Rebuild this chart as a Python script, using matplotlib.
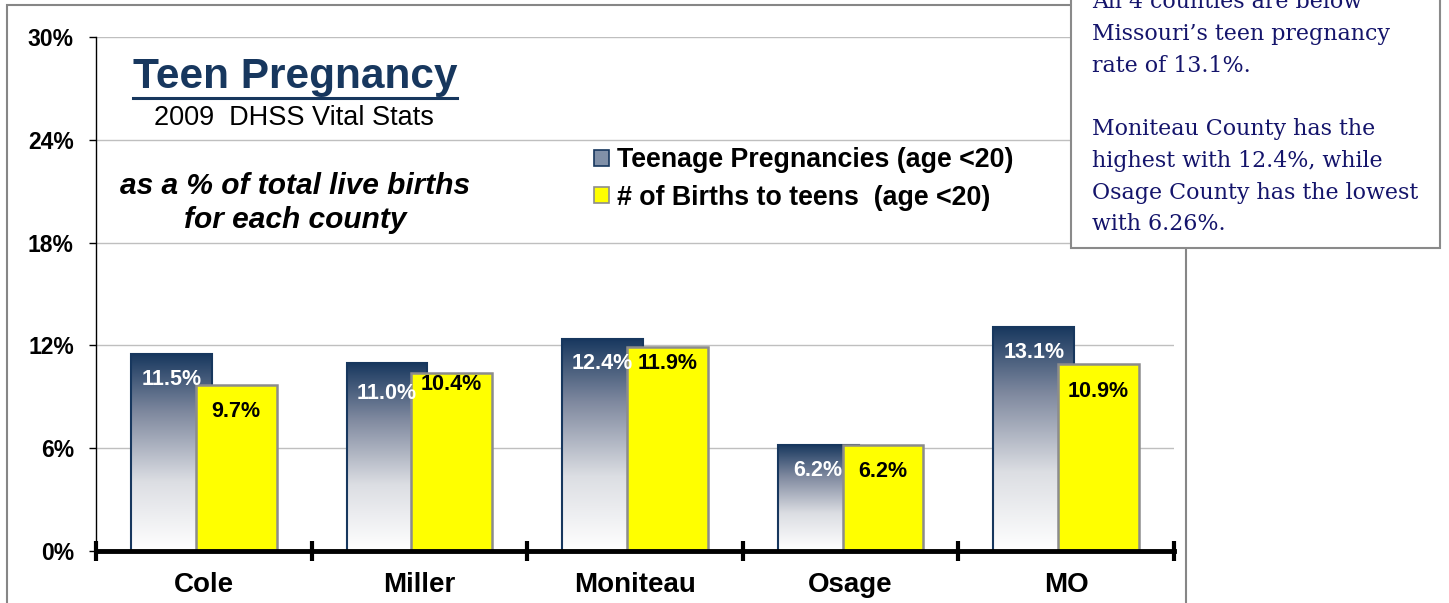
import numpy as np
import matplotlib
matplotlib.use("Agg")
import matplotlib.pyplot as plt
from matplotlib.colors import LinearSegmentedColormap
from matplotlib.patches import Rectangle, Patch
from matplotlib.lines import Line2D

# data
counties = ["Cole", "Miller", "Moniteau", "Osage", "MO"]
teen_preg = [11.5, 11.0, 12.4, 6.2, 13.1]
teen_births = [9.7, 10.4, 11.9, 6.2, 10.9]
preg_labels = ["11.5%", "11.0%", "12.4%", "6.2%", "13.1%"]
birth_labels = ["9.7%", "10.4%", "11.9%", "6.2%", "10.9%"]
y_ticks = [0, 6, 12, 18, 24, 30]
legend_names = ["Teenage Pregnancies (age <20)", "# of Births to teens  (age <20)"]
note_lines = ["All 4 counties are below",
              "Missouri\u2019s teen pregnancy",
              "rate of 13.1%.",
              "",
              "Moniteau County has the",
              "highest with 12.4%, while",
              "Osage County has the lowest",
              "with 6.26%."]

# label offsets below bar top (px), Excel had them nudged by hand
preg_dy = [26, 31, 25, 26, 26]
birth_dy = [27, 12, 16, 27, 27]

plt.rcParams["font.family"] = ["Liberation Sans", "DejaVu Sans"]

W, H = 1449, 603
fig = plt.figure(figsize=(W / 100, H / 100), dpi=100)
ax = fig.add_axes([96 / W, 1 - 551 / H, (1174 - 96) / W, (551 - 37) / H])

navy = "#17375E"
grad = LinearSegmentedColormap.from_list(
    "g", [(0, "#ffffff"), (0.35, "#dcdee3"), (0.7, "#7f899f"), (1, navy)])

x = np.arange(len(counties))
bw = 0.375
off = 0.15

blue = ax.bar(x - off, teen_preg, bw, facecolor="none", edgecolor=navy,
              linewidth=1.5, zorder=3)
for b in blue:
    x0, w, h = b.get_x(), b.get_width(), b.get_height()
    im = ax.imshow(np.linspace(0, 1, 256).reshape(-1, 1), cmap=grad,
                   extent=(x0, x0 + w, 0, h), origin="lower", aspect="auto",
                   zorder=2.5)
    im.set_clip_path(b)

yel = ax.bar(x + off, teen_births, bw, facecolor="#FFFF00", edgecolor="#8C8C8C",
             linewidth=1.8, zorder=4)

for i in range(len(counties)):
    ax.annotate(preg_labels[i], (x[i] - off, teen_preg[i]), xytext=(0, -preg_dy[i] * 0.72),
                textcoords="offset points", ha="center", va="center",
                color="white", fontsize=15.5, fontweight="bold", zorder=6)
    ax.annotate(birth_labels[i], (x[i] + off, teen_births[i]), xytext=(0, -birth_dy[i] * 0.72),
                textcoords="offset points", ha="center", va="center",
                color="black", fontsize=15.5, fontweight="bold", zorder=6)

ax.set_xlim(-0.5, len(counties) - 0.5)
ax.set_ylim(0, 30)
ax.set_yticks(y_ticks)
ax.set_yticklabels([f"{t}%" for t in y_ticks], fontsize=16.5, fontweight="bold")
ax.yaxis.grid(True, color="#BFBFBF", linewidth=1)
ax.set_axisbelow(True)

ax.set_xticks(x)
ax.set_xticklabels(counties, fontsize=20, fontweight="bold")
ax.tick_params(axis="x", which="major", length=0, pad=15)
ax.set_xticks(np.arange(-0.5, len(counties), 1), minor=True)
ax.tick_params(axis="x", which="minor", direction="inout", length=15, width=3)
ax.tick_params(axis="y", length=5, width=1, pad=11)

for s in ["top", "right"]:
    ax.spines[s].set_visible(False)
ax.spines["left"].set_linewidth(1)
ax.spines["bottom"].set_linewidth(3.5)
ax.spines["bottom"].set_zorder(7)

# legend
handles = [Patch(facecolor="#8090A8", edgecolor=navy, linewidth=1.2),
           Patch(facecolor="#FFFF00", edgecolor="#8C8C8C", linewidth=1.2)]
fig.legend(handles, legend_names, loc="upper left",
           bbox_to_anchor=(581 / W, 1 - 134 / H), frameon=False,
           prop={"weight": "bold", "size": 19.3}, handlelength=0.55,
           handleheight=0.55, handletextpad=0.3, labelspacing=0.42, borderpad=0)

# title block
title = fig.text(295 / W, 1 - 77 / H, "Teen Pregnancy", ha="center", va="center",
                 fontsize=30.5, fontweight="bold", color=navy)
fig.text(294 / W, 1 - 118 / H, "2009  DHSS Vital Stats", ha="center", va="center",
         fontsize=19.5, color="black")
fig.text(295 / W, 1 - 203 / H, "as a % of total live births\nfor each county",
         ha="center", va="center", fontsize=21.5, fontweight="bold", style="italic",
         linespacing=1.25)

fig.canvas.draw()
bb = title.get_window_extent()
fig.add_artist(Line2D([bb.x0 / W, bb.x1 / W], [1 - 98 / H, 1 - 98 / H],
                      transform=fig.transFigure, color=navy, linewidth=2.2))

# outer chart frame
fig.add_artist(Rectangle((7 / W, -0.1), (1186 - 7) / W, 1.1 - 5 / H,
                         transform=fig.transFigure, fill=False,
                         edgecolor="#868686", linewidth=1.5))

# note box (top line is cut off by the page edge in the original too)
fig.add_artist(Rectangle((1071 / W, 1 - 248 / H), (1440 - 1071) / W, 0.5,
                         transform=fig.transFigure, facecolor="white",
                         edgecolor="#8A8A8A", linewidth=1.5, zorder=8))
for k, line in enumerate(note_lines):
    fig.text(1092 / W, 1 - (8.3 + 31.7 * k) / H, line, ha="left", va="baseline",
             fontsize=15.9, family="DejaVu Serif", color="#14146B", zorder=9)

fig.savefig("out.png", dpi=100)
